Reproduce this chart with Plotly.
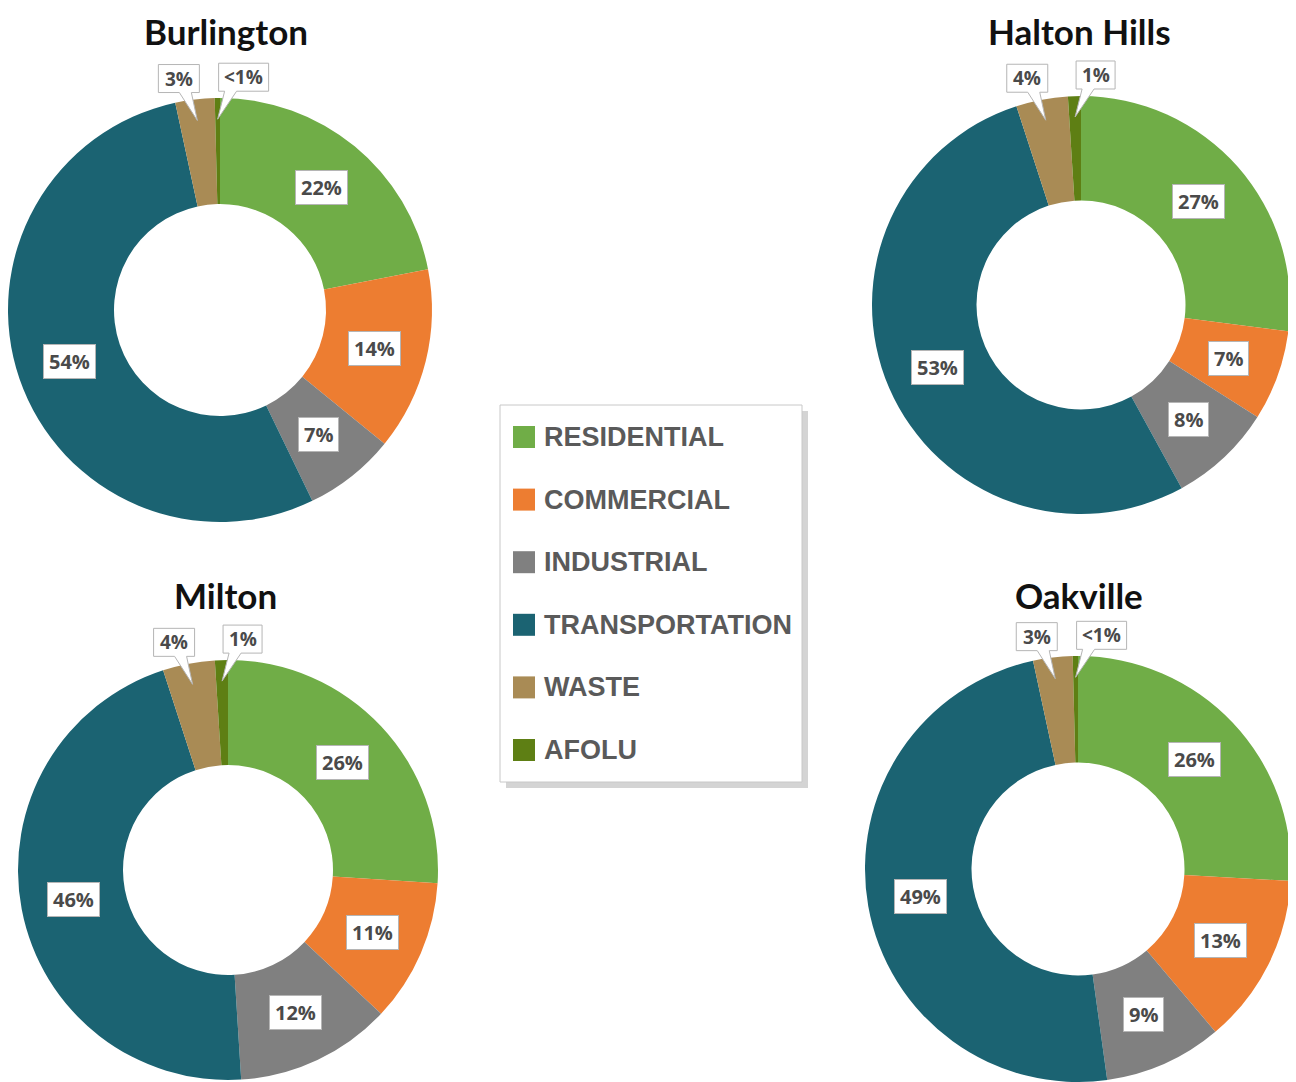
import math
import plotly.graph_objects as go

# page has an 8px body margin; the figure sits at (8, 8)
OFF = 8
W, H = 1288, 1074

# ---------------- data ----------------
categories = ["RESIDENTIAL", "COMMERCIAL", "INDUSTRIAL", "TRANSPORTATION", "WASTE", "AFOLU"]
colors = ["#70AD47", "#ED7D31", "#808080", "#1B6372", "#A98B55", "#5E7F14"]

cities = ["Burlington", "Halton Hills", "Milton", "Oakville"]
burlington_values = [22, 14, 7, 54, 3, 0.4]
halton_hills_values = [27, 7, 8, 53, 4, 1]
milton_values = [26, 11, 12, 46, 4, 1]
oakville_values = [26, 13, 9, 49, 3, 0.4]

burlington_labels = ["22%", "14%", "7%", "54%", "3%", "<1%"]
halton_hills_labels = ["27%", "7%", "8%", "53%", "4%", "1%"]
milton_labels = ["26%", "11%", "12%", "46%", "4%", "1%"]
oakville_labels = ["26%", "13%", "9%", "49%", "3%", "<1%"]

callout_categories = ["WASTE", "AFOLU"]

# ---------------- layout (pixel geometry, page coordinates) ----------------
geom = {
    "Burlington": (220, 310, 212),
    "Halton Hills": (1081, 305, 209),
    "Milton": (228, 870, 210),
    "Oakville": (1078, 869, 213),
}
title_pos = {
    "Burlington": (226, 25),
    "Halton Hills": (1079, 25),
    "Milton": (226, 595),
    "Oakville": (1079, 595),
}
series = {
    "Burlington": (burlington_values, burlington_labels),
    "Halton Hills": (halton_hills_values, halton_hills_labels),
    "Milton": (milton_values, milton_labels),
    "Oakville": (oakville_values, oakville_labels),
}

HOLE = 0.5
LABEL_FONT = dict(family="Open Sans", size=20, color="#4a4a4a")
CALLOUT_FONT = dict(family="Open Sans", size=19, color="#4a4a4a")
BOX_BORDER = "#b5b5b5"


def px(x, y):
    return (x - OFF) / W, 1 - (y - OFF) / H


def text_width(s):
    w = 0
    for ch in s:
        if ch == "%":
            w += 16
        elif ch == "1":
            w += 9
        else:
            w += 11
    return w


fig = go.Figure()
shapes = []
annotations = []

for city in cities:
    vals, labs = series[city]
    cx, cy, r = geom[city]
    x0, y1 = px(cx - r, cy + r)
    x1, y0 = px(cx + r, cy - r)
    fig.add_trace(go.Pie(
        labels=categories, values=vals, hole=HOLE, sort=False,
        direction="clockwise", rotation=0,
        marker=dict(colors=colors, line=dict(width=0)),
        textinfo="none", showlegend=False, name=city,
        domain=dict(x=[max(0, x0), min(1, x1)], y=[max(0, y1), min(1, y0)]),
    ))

    total = sum(vals)
    cum = 0.0
    for cat, v, lab in zip(categories, vals, labs):
        mid = (cum + v / 2) / total
        cum += v
        th = 2 * math.pi * mid
        if cat in callout_categories:
            rt = 0.9 * r
            tx = cx + rt * math.sin(th)
            ty = cy - rt * math.cos(th)
            bw = text_width(lab) + 14
            bh = 28
            if cat == "WASTE":
                bx1 = tx + 2
                bx0 = bx1 - bw
                base = bx1 - 14
            else:
                bx0 = tx + 1
                bx1 = bx0 + bw
                base = bx0 + 12
            by1 = ty - 28
            by0 = by1 - bh
            pts = [(bx0, by0), (bx1, by0), (bx1, by1), (base + 6, by1), (tx, ty),
                   (base - 6, by1), (bx0, by1)]
            path = "M " + " L ".join(
                "%.5f,%.5f" % px(a, b) for a, b in pts) + " Z"
            shapes.append(dict(type="path", xref="paper", yref="paper", path=path,
                               fillcolor="white", line=dict(color=BOX_BORDER, width=1),
                               layer="above"))
            ax, ay = px((bx0 + bx1) / 2, (by0 + by1) / 2)
            annotations.append(dict(x=ax, y=ay, xref="paper", yref="paper",
                                    text="<b>%s</b>" % lab, showarrow=False,
                                    font=CALLOUT_FONT, xanchor="center", yanchor="middle"))
        else:
            rl = r * (1 + HOLE) / 2
            lx = cx + rl * math.sin(th)
            ly = cy - rl * math.cos(th)
            ax, ay = px(lx, ly)
            annotations.append(dict(x=ax, y=ay, xref="paper", yref="paper",
                                    text="<b>\u200a%s\u200a</b>" % lab, showarrow=False,
                                    font=LABEL_FONT, bgcolor="white",
                                    bordercolor=BOX_BORDER, borderwidth=1, borderpad=3,
                                    xanchor="center", yanchor="middle"))

    tx_, ty_ = px(*title_pos[city])
    if ty_ > 0.96:
        annotations.append(dict(x=tx_, y=1, xref="paper", yref="paper",
                                text="<b>%s</b>" % city, showarrow=False,
                                font=dict(family="Lato", size=35, color="#111111"),
                                xanchor="center", yanchor="top"))
    else:
        annotations.append(dict(x=tx_, y=ty_, xref="paper", yref="paper",
                                text="<b>%s</b>" % city, showarrow=False,
                                font=dict(family="Lato", size=35, color="#111111"),
                                xanchor="center", yanchor="middle"))

# ---------------- legend (custom box) ----------------
LX0, LY0, LX1, LY1 = 500, 405, 802, 782
sx0, sy0 = px(LX0 + 6, LY0 + 6)
sx1, sy1 = px(LX1 + 6, LY1 + 6)
shapes.append(dict(type="rect", xref="paper", yref="paper", x0=sx0, x1=sx1, y0=sy1, y1=sy0,
                   fillcolor="#d4d4d4", line=dict(width=0), layer="above"))
bx0, by0 = px(LX0, LY0)
bx1, by1 = px(LX1, LY1)
shapes.append(dict(type="rect", xref="paper", yref="paper", x0=bx0, x1=bx1, y0=by1, y1=by0,
                   fillcolor="white", line=dict(color="#c8c8c8", width=1), layer="above"))
for i, (cat, col) in enumerate(zip(categories, colors)):
    yc = 437 + i * 62.6
    qx0, qy0 = px(513, yc - 11)
    qx1, qy1 = px(535, yc + 11)
    shapes.append(dict(type="rect", xref="paper", yref="paper", x0=qx0, x1=qx1, y0=qy1, y1=qy0,
                       fillcolor=col, line=dict(width=0), layer="above"))
    ax, ay = px(542, yc)
    annotations.append(dict(x=ax, y=ay, xref="paper", yref="paper", text="<b>%s</b>" % cat,
                            showarrow=False, xanchor="left", yanchor="middle",
                            font=dict(family="Liberation Sans", size=27, color="#5a5a5a")))

fig.update_layout(
    width=W, height=H, margin=dict(l=0, r=0, t=0, b=0),
    paper_bgcolor="white", plot_bgcolor="white",
    shapes=shapes, annotations=annotations,
)

fig.write_html("out.html")
